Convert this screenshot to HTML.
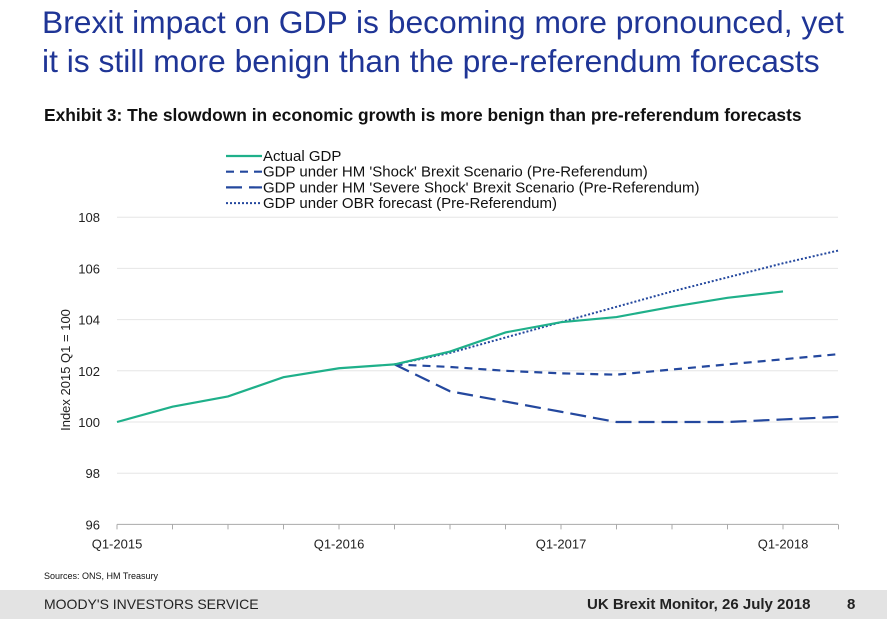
<!DOCTYPE html>
<html><head><meta charset="utf-8"><style>
body{margin:0;width:887px;height:633px;background:#fff;font-family:"Liberation Sans",sans-serif;overflow:hidden;position:relative}
.t{position:absolute;left:42px;top:3px;font-size:31.8px;line-height:39px;color:#1f3596}
.ex{position:absolute;left:44px;top:105px;font-size:17.4px;font-weight:bold;color:#111}
.src{position:absolute;left:44px;top:571px;font-size:9px;color:#111}
.band{position:absolute;left:0;top:590px;width:887px;height:29px;background:#e3e3e3}
.band span{position:absolute;top:6px;font-size:15px;color:#222}
</style></head><body>
<div class="t">Brexit impact on GDP is becoming more pronounced, yet<br>it is still more benign than the pre-referendum forecasts</div>
<div class="ex">Exhibit 3: The slowdown in economic growth is more benign than pre-referendum forecasts</div>
<svg id="c" width="887" height="633" style="position:absolute;left:0;top:0"></svg>
<div class="src">Sources: ONS, HM Treasury</div>
<div class="band">
<span style="left:44px;font-size:14px">MOODY'S INVESTORS SERVICE</span>
<span style="left:587px;font-weight:bold;font-size:15px">UK Brexit Monitor, 26 July 2018</span>
<span style="left:847px;font-weight:bold">8</span>
</div>
<script>
const xLabels=["Q1-2015","Q1-2016","Q1-2017","Q1-2018"];
const yTicks=[96,98,100,102,104,106,108];
const actual=[100,100.6,101.0,101.75,102.1,102.25,102.75,103.5,103.9,104.1,104.5,104.85,105.1];
const shock=[102.25,102.15,102.0,101.9,101.85,102.05,102.25,102.45,102.65];
const severe=[102.25,101.2,100.8,100.4,100.0,100.0,100.0,100.1,100.2];
const obr=[102.25,102.7,103.3,103.9,104.5,105.1,105.65,106.2,106.7];
const forecastStart=5;
const NS="http://www.w3.org/2000/svg",svg=document.getElementById('c');
const x=i=>117+i*55.5, y=v=>422-(v-100)*25.6;
function mk(t,a){const e=document.createElementNS(NS,t);for(const k in a)e.setAttribute(k,a[k]);svg.appendChild(e);return e;}
yTicks.forEach(v=>{
 if(v>96){const g=mk('line',{x1:117,x2:838,y1:y(v),y2:y(v),stroke:'#e6e6e6','stroke-width':1});
 
 }
 const t=mk('text',{x:100,y:y(v)+5,'text-anchor':'end','font-size':13,fill:'#222'});t.textContent=v;
 
 
});
const ax=mk('line',{x1:117,x2:838,y1:y(96),y2:y(96),stroke:'#aaa'});


for(let i=0;i<=13;i++){mk('line',{x1:x(i),x2:x(i),y1:y(96),y2:y(96)+5,stroke:'#aaa'});}
xLabels.forEach((l,k)=>{const t=mk('text',{x:x(k*4),y:y(96)+24,'text-anchor':'middle','font-size':13,fill:'#222'});t.textContent=l;
 
 });
const yt=mk('text',{x:0,y:0,transform:'translate(70,370) rotate(-90)','text-anchor':'middle','font-size':13,fill:'#222'});yt.textContent='Index 2015 Q1 = 100';


function line(arr,off,st,name){const p=arr.map((v,i)=>x(i+off)+','+y(v)).join(' ');
 const e=mk('polyline',Object.assign({points:p,fill:'none'},st));
 
 }
const sGreen={stroke:'#1fb08a','stroke-width':2.2},sShock={stroke:'#24489e','stroke-width':2.2,'stroke-dasharray':'8,6'},
sSev={stroke:'#24489e','stroke-width':2.2,'stroke-dasharray':'16,7'},sObr={stroke:'#24489e','stroke-width':2,'stroke-dasharray':'2,2'};
line(obr,forecastStart,sObr,'line-obr-forecast');
line(shock,forecastStart,sShock,'line-hm-shock');
line(severe,forecastStart,sSev,'line-hm-severe-shock');
line(actual,0,sGreen,'line-actual-gdp');
const leg=[["Actual GDP",sGreen],["GDP under HM 'Shock' Brexit Scenario (Pre-Referendum)",sShock],["GDP under HM 'Severe Shock' Brexit Scenario (Pre-Referendum)",sSev],["GDP under OBR forecast (Pre-Referendum)",sObr]];
leg.forEach((l,i)=>{const yy=156+i*15.7;
 mk('line',Object.assign({x1:226,x2:262,y1:yy,y2:yy},l[1]));
 const t=mk('text',{x:263,y:yy+5,'font-size':15,fill:'#111'});t.textContent=l[0];
 
 });
</script>
</body></html>
